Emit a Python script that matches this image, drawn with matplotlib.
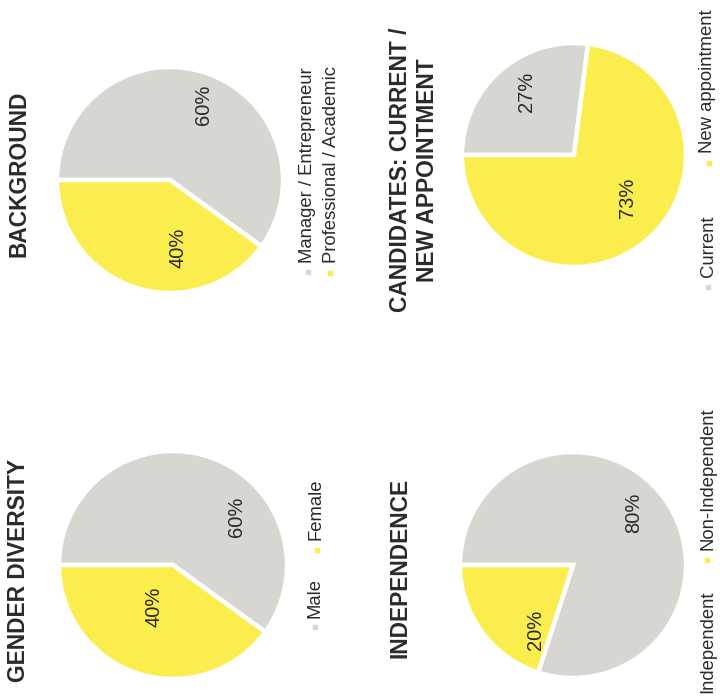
import matplotlib
matplotlib.use("Agg")
import matplotlib.pyplot as plt
import numpy as np

plt.rcParams['font.family'] = ['Liberation Sans', 'DejaVu Sans']

# ---- data ----
titles = ["BACKGROUND", "CANDIDATES: CURRENT /\nNEW APPOINTMENT", "GENDER DIVERSITY", "INDEPENDENCE"]
labels_background = ["Manager / Entrepreneur", "Professional / Academic"]
values_background = [60, 40]
labels_candidates = ["Current", "New appointment"]
values_candidates = [27, 73]
labels_gender = ["Male", "Female"]
values_gender = [60, 40]
labels_independence = ["Independent", "Non-Independent"]
values_independence = [80, 20]

GRAY = "#d7d6d0"
YELLOW = "#fbed4e"
TEXT = "#2a2a2a"
W, H = 720, 697

fig = plt.figure(figsize=(7.2, 6.97), dpi=100)
ax = fig.add_axes([0, 0, 1, 1])

def Y(y):
    return H - y

# layout (pixel positions, y from top) -- style only
charts = [
    dict(vals=values_background, labs=labels_background, center=(170, 180), r=113,
         title=titles[0], title_xy=(19, 174),
         pct_pos=[(66, 82), (277, 68)],
         legend=[((308, 272), (308, 263)), ((330, 273), (331, 263))]),
    dict(vals=values_candidates, labs=labels_candidates, center=(574, 155), r=112,
         title=titles[1], title_xy=(414, 170),
         pct_pos=[(127, 79), (-38.5, 69)],
         legend=[((708, 287), (708, 277)), ((709, 163), (708, 153))]),
    dict(vals=values_gender, labs=labels_gender, center=(173, 565), r=114,
         title=titles[2], title_xy=(19, 570),
         pct_pos=[(37, 80), (246, 46)],
         legend=[((315, 627), (315, 618)), ((317, 550), (316, 540))]),
    dict(vals=values_independence, labs=labels_independence, center=(573, 565), r=113,
         title=titles[3], title_xy=(400, 568),
         pct_pos=[(41, 80), (240, 75)],
         legend=[((708, 703), (708, 693)), ((707, 560), (708, 550))]),
]

colors = [GRAY, YELLOW]
for c in charts:
    cx, cy = c["center"]
    wedges, _ = ax.pie(c["vals"], colors=colors, startangle=180, counterclock=False,
                       center=(cx, Y(cy)), radius=c["r"],
                       wedgeprops=dict(edgecolor="white", linewidth=3.2))
    total = sum(c["vals"])
    for v, (ang, dist) in zip(c["vals"], c["pct_pos"]):
        a = np.deg2rad(ang)
        ax.text(cx + dist * np.cos(a), Y(cy) + dist * np.sin(a), f"{round(100 * v / total)}%",
                rotation=90, ha="center", va="center", fontsize=14.5, color=TEXT)
    ax.text(c["title_xy"][0], Y(c["title_xy"][1]), c["title"], rotation=90,
            ha="center", va="center", fontsize=16.4, color=TEXT, fontweight="bold",
            multialignment="center", linespacing=1.25)
    for lab, col, ((mx, my), (tx, ty)) in zip(c["labs"], colors, c["legend"]):
        ax.plot([mx], [Y(my)], marker="s", markersize=3, color=col, linestyle="none")
        ax.text(tx, Y(ty), lab, rotation=90, ha="center", va="bottom",
                fontsize=13.3, color=TEXT)

ax.set_xlim(0, W)
ax.set_ylim(0, H)
ax.set_aspect("equal", adjustable="box")
ax.axis("off")
fig.savefig("out.png", dpi=100, facecolor="white")
